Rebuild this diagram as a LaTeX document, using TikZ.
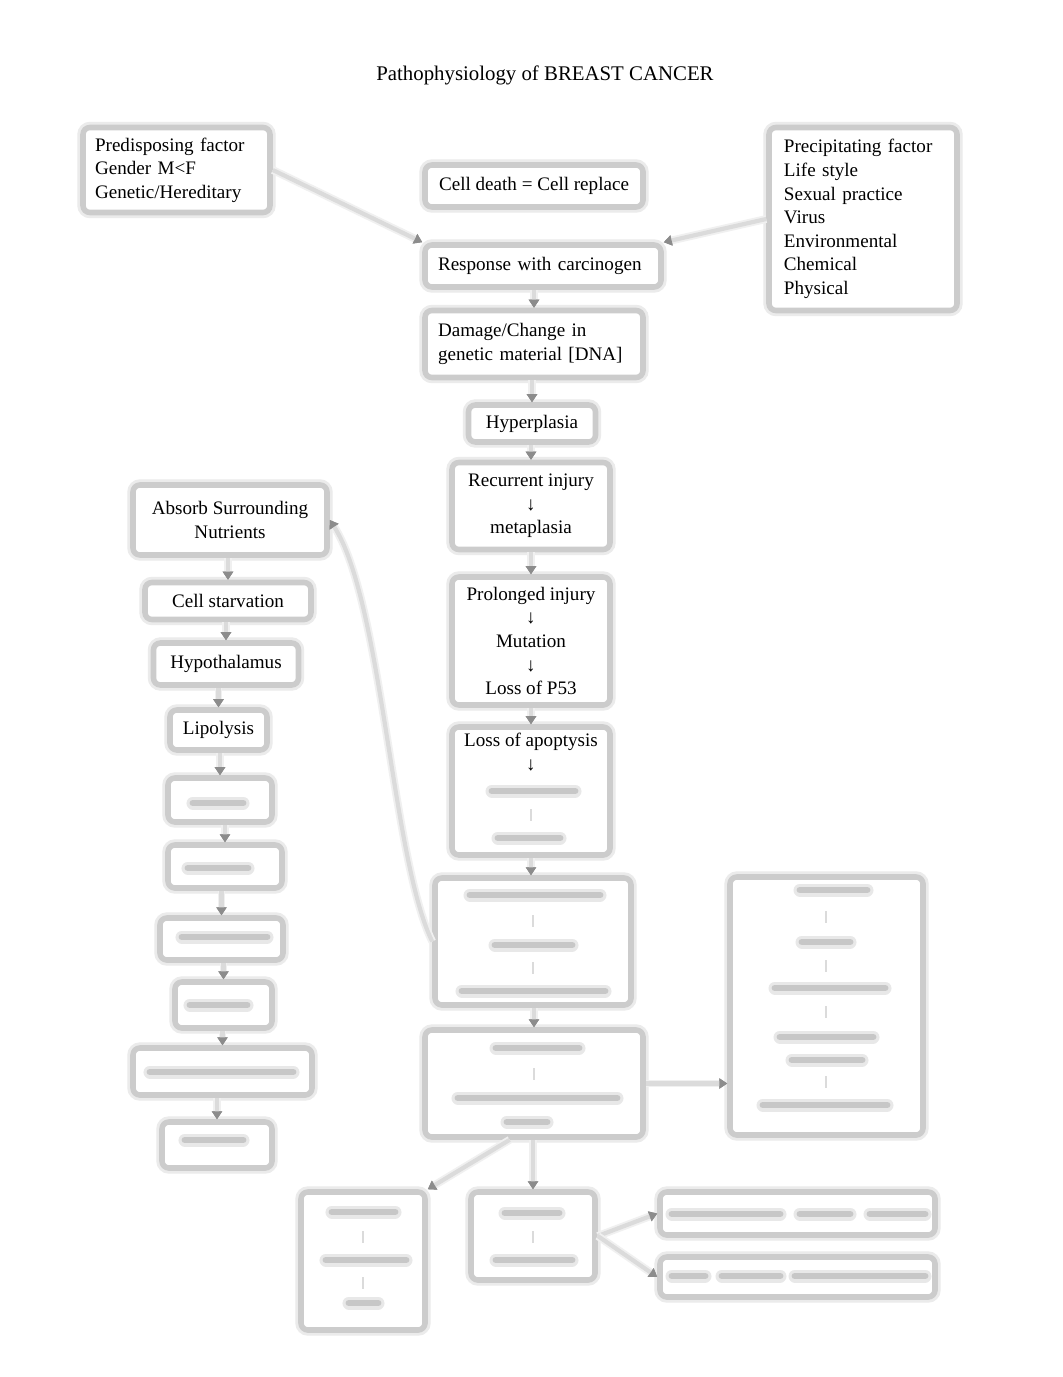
\documentclass[tikz,border=0pt]{standalone}
\usepackage{fontspec}
\setmainfont{Liberation Serif}
\usetikzlibrary{arrows.meta}
\begin{document}
\begin{tikzpicture}[x=0.5763pt, y=-0.5763pt,
  box/.style={draw=black!20, line width=3.2pt, rounded corners=4pt, fill=white,
    preaction={draw=black!8, line width=6.5pt},
    font=\fontsize{11}{13.6}\selectfont, inner sep=0pt},
  bw/.style={minimum width=#1*0.5763pt},
  bh/.style={minimum height=#1*0.5763pt},
  conn/.style={draw=black!14, line width=2.4pt,
    preaction={draw=black!6, line width=4.5pt},
    -{Triangle[length=4.6pt,width=5.8pt,color=black!45]}},
  smudge/.style={draw=black!22, line width=4pt, line cap=round,
    preaction={draw=black!9, line width=7.5pt, line cap=round}},
  faint/.style={draw=black!14, line width=1pt},
  ttl/.style={font=\fontsize{12}{13.6}\selectfont, inner sep=0pt}]
\useasboundingbox (0,0) rectangle (1062,1377);
\fill[white] (0,0) rectangle (1062,1377);

\node[ttl] (title) at (545,75) {Pathophysiology of BREAST CANCER};

% top row
\node[box, bw=187, bh=85, inner xsep=6.9pt, text width=93.9pt, align=left] (pre) at (176.5,170)
  {Predisposing factor\\Gender M<F\\Genetic/Hereditary};
\node[box, bw=218, bh=42, align=center] (death) at (534,186) {Cell death = Cell replace};
\node[box, bw=188, bh=183, inner xsep=8.6pt, text width=91.1pt, align=left] (prec) at (863,219)
  {Precipitating factor\\Life style\\Sexual practice\\Virus\\Environmental\\Chemical\\Physical};

% centre column
\node[box, bw=236, bh=42, inner xsep=7.5pt, text width=121pt, align=left] (resp) at (543,266)
  {Response with carcinogen};
\node[box, bw=218, bh=67, inner xsep=7.5pt, text width=110.6pt, align=left] (dmg) at (534,344)
  {Damage/Change in\\genetic material [DNA]};
\node[box, bw=127, bh=37, align=center] (hyper) at (532,423.5) {Hyperplasia};
\node[box, bw=158, bh=87, align=center] (recur) at (531,506) {Recurrent injury\\↓\\metaplasia};
\node[box, bw=158, bh=128, align=center] (prol) at (531,641) {Prolonged injury\\↓\\Mutation\\↓\\Loss of P53};
\node[box, bw=158, bh=128, align=center] (apop) at (531,791)
  {Loss of apoptysis\\↓\\\strut\\\strut\\\strut};
\node[box, bw=196, bh=127] (b10) at (533,941.5) {};
\node[box, bw=218, bh=107] (b11) at (534,1083.5) {};
\node[box, bw=193, bh=258] (rbig) at (826.5,1006) {};

% bottom row
\node[box, bw=124, bh=138] (bl) at (363,1261) {};
\node[box, bw=124, bh=88] (bm) at (533,1236) {};
\node[box, bw=275, bh=43] (br1) at (797.5,1213.5) {};
\node[box, bw=275, bh=40] (br2) at (797.5,1277) {};

% left column
\node[box, bw=194, bh=70, align=center] (absorb) at (230,520) {Absorb Surrounding\\Nutrients};
\node[box, bw=166, bh=37, align=center] (starv) at (228,601) {Cell starvation};
\node[box, bw=145, bh=42, align=center] (hypo) at (226,664) {Hypothalamus};
\node[box, bw=97, bh=40, align=center] (lipo) at (218.5,730) {Lipolysis};
\node[box, bw=104, bh=44] (l5) at (220,800) {};
\node[box, bw=114, bh=43] (l6) at (225,866.5) {};
\node[box, bw=123, bh=42] (l7) at (221.5,939) {};
\node[box, bw=97, bh=46] (l8) at (223.5,1005) {};
\node[box, bw=179, bh=47] (l9) at (222.5,1071.5) {};
\node[box, bw=110, bh=46] (l10) at (217,1145) {};

% illegible (blurred) text
\draw[smudge] (492,791) -- (575,791);
\draw[smudge] (498,838) -- (560,838);
\draw[faint] (531,809) -- (531,821);
\draw[smudge] (470,895) -- (600,895);
\draw[smudge] (495,945) -- (572,945);
\draw[smudge] (462,991) -- (605,991);
\draw[faint] (533,915) -- (533,927);
\draw[faint] (533,962) -- (533,974);
\draw[smudge] (496,1048) -- (579,1048);
\draw[smudge] (458,1098) -- (617,1098);
\draw[smudge] (507,1122) -- (547,1122);
\draw[faint] (534,1068) -- (534,1080);
\draw[smudge] (800,890) -- (867,890);
\draw[smudge] (802,942) -- (850,942);
\draw[smudge] (775,988) -- (885,988);
\draw[smudge] (780,1037) -- (873,1037);
\draw[smudge] (792,1060) -- (862,1060);
\draw[smudge] (763,1105) -- (887,1105);
\foreach \yy in {917,966,1012,1082} \draw[faint] (826,\yy-6) -- (826,\yy+6);
\draw[smudge] (332,1212) -- (395,1212);
\draw[smudge] (326,1260) -- (406,1260);
\draw[smudge] (349,1303) -- (378,1303);
\draw[faint] (363,1231) -- (363,1243);
\draw[faint] (363,1277) -- (363,1289);
\draw[smudge] (505,1213) -- (559,1213);
\draw[smudge] (496,1260) -- (572,1260);
\draw[faint] (533,1231) -- (533,1243);
\draw[smudge] (672,1214) -- (780,1214);
\draw[smudge] (800,1214) -- (850,1214);
\draw[smudge] (870,1214) -- (925,1214);
\draw[smudge] (672,1276) -- (705,1276);
\draw[smudge] (722,1276) -- (780,1276);
\draw[smudge] (795,1276) -- (925,1276);
\draw[smudge] (193,803) -- (243,803);
\draw[smudge] (188,868) -- (248,868);
\draw[smudge] (182,937) -- (267,937);
\draw[smudge] (190,1005) -- (247,1005);
\draw[smudge] (150,1072) -- (293,1072);
\draw[smudge] (185,1140) -- (243,1140);

% connectors
\draw[conn] (pre.east) -- (resp.north west);
\draw[conn] (prec.west) -- (resp.north east);
\draw[conn] (dmg.north |- resp.south) -- (dmg.north);
\draw[conn] (hyper.north |- dmg.south) -- (hyper.north);
\draw[conn] (recur.north |- hyper.south) -- (recur.north);
\draw[conn] (recur.south) -- (prol.north);
\draw[conn] (prol.south) -- (apop.north);
\draw[conn] (apop.south) -- (apop.south |- b10.north);
\draw[conn] (b11.north |- b10.south) -- (b11.north);
\draw[conn] (b11.east) -- (rbig.west |- b11.east);
\draw[conn] (b11.south -| bm.north) -- (bm.north);
\draw[conn] ([xshift=-14pt]b11.south) -- (bl.north east);
\draw[conn] (bm.east) -- (br1.west);
\draw[conn] (bm.east) -- (br2.west);
\draw[conn] (b10.west) .. controls (392,860) and (382,600) .. (absorb.east);
\draw[conn] (starv.north |- absorb.south) -- (starv.north);
\draw[conn] (hypo.north |- starv.south) -- (hypo.north);
\draw[conn] (lipo.north |- hypo.south) -- (lipo.north);
\draw[conn] (l5.north |- lipo.south) -- (l5.north);
\draw[conn] (l6.north |- l5.south) -- (l6.north);
\draw[conn] (l7.north |- l6.south) -- (l7.north);
\draw[conn] (l8.north |- l7.south) -- (l8.north);
\draw[conn] (l9.north |- l8.south) -- (l9.north);
\draw[conn] (l10.north |- l9.south) -- (l10.north);
\end{tikzpicture}
\end{document}
